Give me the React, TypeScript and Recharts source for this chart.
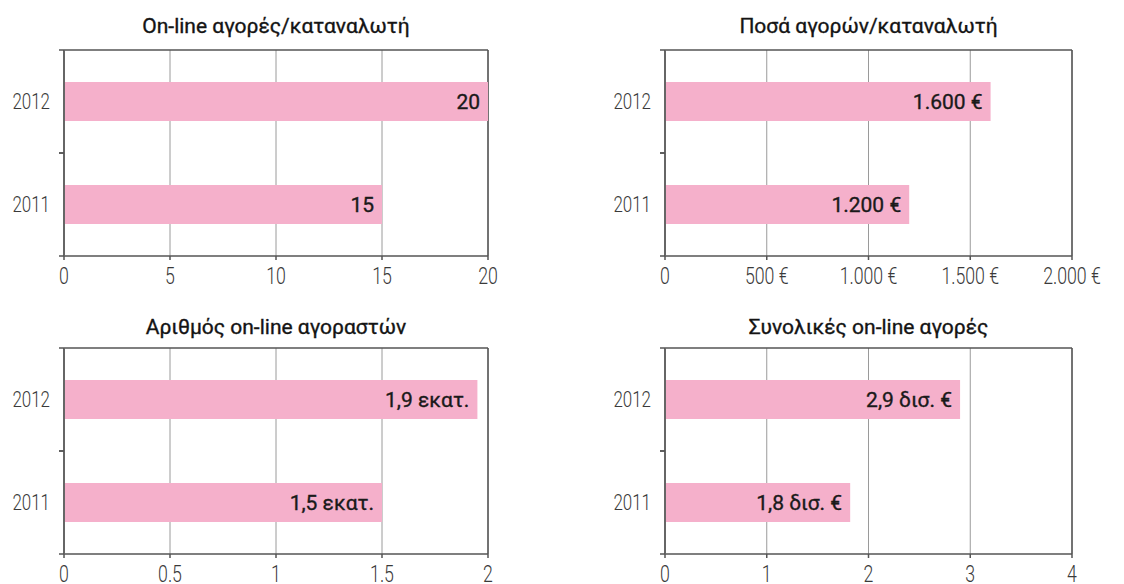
import React from 'react';
import { BarChart, Bar, XAxis, YAxis, CartesianGrid, LabelList } from 'recharts';

// ---- data ----
const YEARS = ['2012', '2011'];

const PURCHASES_TITLE = 'On-line αγορές/καταναλωτή';
const PURCHASES_VALUES = [20, 15];
const PURCHASES_LABELS = ['20', '15'];
const PURCHASES_TICKS = [0, 5, 10, 15, 20];
const PURCHASES_TICK_LABELS = ['0', '5', '10', '15', '20'];

const AMOUNT_TITLE = 'Ποσά αγορών/καταναλωτή';
const AMOUNT_VALUES = [1600, 1200];
const AMOUNT_LABELS = ['1.600 €', '1.200 €'];
const AMOUNT_TICKS = [0, 500, 1000, 1500, 2000];
const AMOUNT_TICK_LABELS = ['0', '500 €', '1.000 €', '1.500 €', '2.000 €'];

const BUYERS_TITLE = 'Αριθμός on-line αγοραστών';
const BUYERS_VALUES = [1.95, 1.5];
const BUYERS_LABELS = ['1,9 εκατ.', '1,5 εκατ.'];
const BUYERS_TICKS = [0, 0.5, 1, 1.5, 2];
const BUYERS_TICK_LABELS = ['0', '0.5', '1', '1.5', '2'];

const TOTAL_TITLE = 'Συνολικές on-line αγορές';
const TOTAL_VALUES = [2.9, 1.82];
const TOTAL_LABELS = ['2,9 δισ. €', '1,8 δισ. €'];
const TOTAL_TICKS = [0, 1, 2, 3, 4];
const TOTAL_TICK_LABELS = ['0', '1', '2', '3', '4'];

// ---- styles ----
const PINK = '#f5b0cb';
const AXIS = '#555555';
const GRID = '#9a9a9a';
const TICK_FONT = 'Roboto, "Liberation Sans", sans-serif';
const LABEL_FONT = 'Roboto, "Noto Sans", sans-serif';
const TICK_SCALE = 0.77;
const Y_TICK_SIZE = 4;
const Y_TICK_MARGIN = 10;

const YTick = (props: any) => {
  const { x, y, payload, height, visibleTicksCount } = props;
  const axisX = x + Y_TICK_SIZE + Y_TICK_MARGIN;
  const count = visibleTicksCount || YEARS.length;
  const half = (height || 206) / count / 2;
  return (
    <g>
      <line x1={axisX - Y_TICK_SIZE - 1} x2={axisX} y1={y - half} y2={y - half} stroke={AXIS} strokeWidth={1.5} />
      <line x1={axisX - Y_TICK_SIZE - 1} x2={axisX} y1={y + half} y2={y + half} stroke={AXIS} strokeWidth={1.5} />
      <text
        transform={`translate(${x},${y}) scale(${TICK_SCALE},1)`}
        dy="0.36em"
        textAnchor="end"
        fill="#3a3a3a"
        fontSize={22}
        fontWeight={300}
        fontFamily={TICK_FONT}
      >
        {payload.value}
      </text>
    </g>
  );
};

const XTick = (props: any) => {
  const { x, y, payload, tickValues, tickTexts } = props;
  const i = tickValues.indexOf(payload.value);
  const label = i >= 0 ? tickTexts[i] : String(payload.value);
  return (
    <text
      transform={`translate(${x},${y}) scale(${TICK_SCALE},1)`}
      dy="0.71em"
      textAnchor="middle"
      fill="#3a3a3a"
      fontSize={23}
      fontWeight={300}
      fontFamily={TICK_FONT}
    >
      {label}
    </text>
  );
};

type PanelProps = {
  left: number;
  top: number;
  width: number;
  height: number;
  margin: { top: number; right: number; bottom: number; left: number };
  title: string;
  titleTop: number;
  values: number[];
  labels: string[];
  ticks: number[];
  tickLabels: string[];
};

function Panel(p: PanelProps) {
  const data = YEARS.map((year, i) => ({ year, value: p.values[i], label: p.labels[i] }));
  const plotLeft = p.margin.left + 64;
  const plotWidth = p.width - plotLeft - p.margin.right;
  return (
    <div style={{ position: 'absolute', left: p.left, top: p.top, width: p.width, height: p.height }}>
      <div
        style={{
          position: 'absolute',
          left: plotLeft - 40,
          width: plotWidth + 80,
          top: p.titleTop,
          textAlign: 'center',
          fontFamily: LABEL_FONT,
          fontWeight: 400,
          fontSize: 21,
          lineHeight: '21px',
          color: '#141414',
          whiteSpace: 'nowrap',
          WebkitTextStroke: '0.35px #141414',
        }}
      >
        {p.title}
      </div>
      <BarChart width={p.width} height={p.height} data={data} layout="vertical" margin={p.margin}>
        <CartesianGrid horizontal={false} vertical={true} stroke={GRID} strokeWidth={1} />
        <CartesianGrid
          horizontal={true}
          vertical={true}
          stroke={AXIS}
          strokeWidth={1.5}
          horizontalCoordinatesGenerator={(props: any) => [props.offset.top]}
          verticalCoordinatesGenerator={(props: any) => [props.offset.left + props.offset.width]}
        />
        <XAxis
          type="number"
          domain={[p.ticks[0], p.ticks[p.ticks.length - 1]]}
          ticks={p.ticks}
          interval={0}
          height={30}
          tickSize={4}
          tickMargin={8}
          stroke={AXIS}
          axisLine={{ stroke: AXIS, strokeWidth: 1.5 }}
          tickLine={{ stroke: AXIS, strokeWidth: 1.5 }}
          tick={<XTick tickValues={p.ticks} tickTexts={p.tickLabels} />}
        />
        <YAxis
          type="category"
          dataKey="year"
          width={64}
          tickSize={Y_TICK_SIZE}
          tickMargin={Y_TICK_MARGIN}
          tickLine={false}
          axisLine={{ stroke: '#666', strokeWidth: 2 }}
          tick={<YTick />}
        />
        <Bar dataKey="value" fill={PINK} barSize={39} isAnimationActive={false}>
          <LabelList
            dataKey="label"
            position="insideRight"
            offset={8}
            fill="#1a1a1a"
            stroke="#1a1a1a"
            strokeWidth={0.35}
            fontSize={21}
            fontFamily={LABEL_FONT}
            fontWeight={400}
          />
        </Bar>
      </BarChart>
    </div>
  );
}

export default function App() {
  return (
    <div style={{ position: 'absolute', left: 0, top: 0, width: 1124, height: 584, background: '#fff', overflow: 'hidden' }}>
      <Panel
        left={0}
        top={0}
        width={562}
        height={292}
        margin={{ top: 50, right: 74, bottom: 6, left: 0 }}
        title={PURCHASES_TITLE}
        titleTop={16}
        values={PURCHASES_VALUES}
        labels={PURCHASES_LABELS}
        ticks={PURCHASES_TICKS}
        tickLabels={PURCHASES_TICK_LABELS}
      />
      <Panel
        left={562}
        top={0}
        width={562}
        height={292}
        margin={{ top: 50, right: 52, bottom: 6, left: 39 }}
        title={AMOUNT_TITLE}
        titleTop={16}
        values={AMOUNT_VALUES}
        labels={AMOUNT_LABELS}
        ticks={AMOUNT_TICKS}
        tickLabels={AMOUNT_TICK_LABELS}
      />
      <Panel
        left={0}
        top={292}
        width={562}
        height={292}
        margin={{ top: 56, right: 74, bottom: 0, left: 0 }}
        title={BUYERS_TITLE}
        titleTop={25}
        values={BUYERS_VALUES}
        labels={BUYERS_LABELS}
        ticks={BUYERS_TICKS}
        tickLabels={BUYERS_TICK_LABELS}
      />
      <Panel
        left={562}
        top={292}
        width={562}
        height={292}
        margin={{ top: 56, right: 52, bottom: 0, left: 39 }}
        title={TOTAL_TITLE}
        titleTop={25}
        values={TOTAL_VALUES}
        labels={TOTAL_LABELS}
        ticks={TOTAL_TICKS}
        tickLabels={TOTAL_TICK_LABELS}
      />
    </div>
  );
}
